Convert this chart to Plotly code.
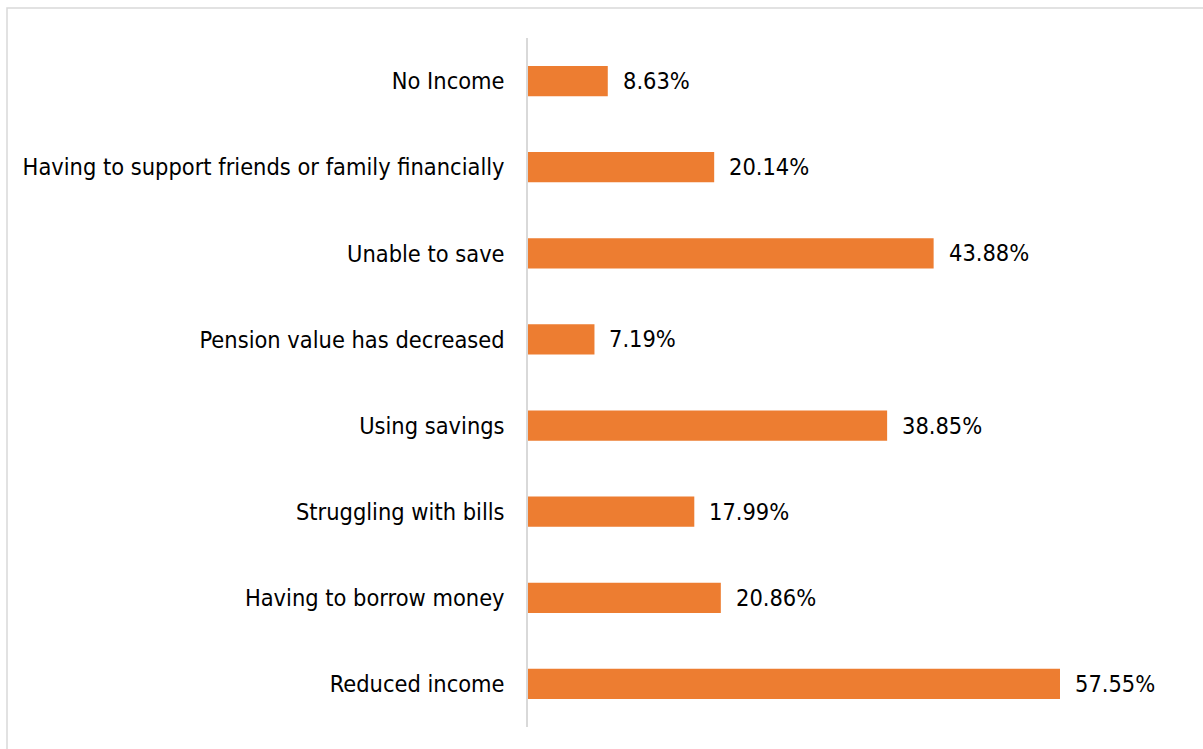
import plotly.graph_objects as go

# Financial impacts reported by respondents (share of respondents, %)
categories = [
    "No Income",
    "Having to support friends or family financially",
    "Unable to save",
    "Pension value has decreased",
    "Using savings",
    "Struggling with bills",
    "Having to borrow money",
    "Reduced income",
]
values = [8.63, 20.14, 43.88, 7.19, 38.85, 17.99, 20.86, 57.55]

W, H = 1203, 749
ML, MR, MT, MB = 528, 0, 38, 22
PW, PH = W - ML - MR, H - MT - MB

FONT = "DejaVu Sans Condensed, DejaVu Sans, sans-serif"
FS = 23.4
BAR = "#ed7d31"
GRID = "#d9d9d9"

fig = go.Figure(
    go.Bar(
        x=values,
        y=categories,
        orientation="h",
        marker=dict(color=BAR, line=dict(width=0)),
        width=0.35,
        hoverinfo="skip",
    )
)

for c, v in zip(categories, values):
    fig.add_annotation(
        x=v, y=c, xref="x", yref="y",
        text=f"{v:.2f}%", showarrow=False,
        xanchor="left", yanchor="middle", xshift=13,
        font=dict(family=FONT, size=FS, color="#000000"),
    )

# light frame around the chart area
fig.add_shape(
    type="rect", xref="paper", yref="paper",
    x0=(7 - ML) / PW, x1=(W + 10 - ML) / PW,
    y0=(MT + PH - (H + 10)) / PH, y1=(MT + PH - 8) / PH,
    line=dict(color=GRID, width=1.5), fillcolor="rgba(0,0,0,0)",
)

fig.update_layout(
    width=W, height=H,
    margin=dict(l=ML, r=MR, t=MT, b=MB, pad=0),
    paper_bgcolor="white", plot_bgcolor="white",
    showlegend=False,
    font=dict(family=FONT, size=FS, color="#000000"),
    xaxis=dict(
        range=[0, 57.55 * PW / 532], showgrid=False, zeroline=False,
        showticklabels=False, showline=False, fixedrange=True,
    ),
    yaxis=dict(
        categoryorder="array", categoryarray=categories[::-1],
        showgrid=False, zeroline=False, showline=True,
        linecolor=GRID, linewidth=1.5, ticks="",
        ticklabelstandoff=17, fixedrange=True,
        tickfont=dict(family=FONT, size=FS, color="#000000"),
    ),
)

fig.write_html("out.html", config={"displayModeBar": False})
